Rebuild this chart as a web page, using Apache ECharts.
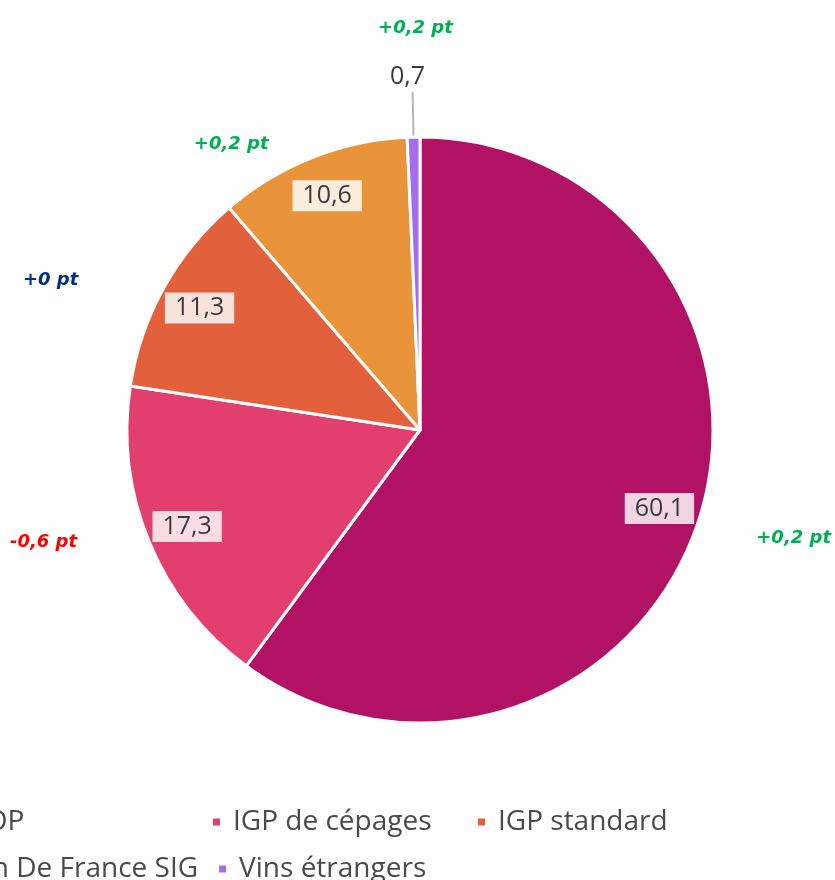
<!DOCTYPE html>
<html>
<head>
<meta charset="utf-8">
<script src="https://cdn.jsdelivr.net/npm/echarts@6/dist/echarts.min.js"></script>
<style>
  html, body { margin: 0; padding: 0; background: #fff; }
  #chart { width: 835px; height: 880px; }
</style>
</head>
<body>
<div id="chart"></div>
<script>
// Répartition des volumes (en %) et évolution sur un an (en points)
const categories = ['AOP', 'IGP de cépages', 'IGP standard', 'Vin De France SIG', 'Vins étrangers'];
const shares = [60.1, 17.3, 11.3, 10.6, 0.7];
const changes = [0.2, -0.6, 0, 0.2, 0.2];

const colors = ['#B21263', '#E23F6F', '#E3603C', '#E9943B', '#A66CF0'];
const FONT = '"Open Sans", "Noto Sans", sans-serif';

// Décalage des étiquettes d'évolution autour du disque
const changeLabelShift = [[5, -13], [-18, -36], [-30, 38], [-46, 75], [4, -14]];

const center = [420, 430];
const R = 293;

function fmtShare(v) { return v.toFixed(1).replace('.', ','); }
function fmtChange(v) {
  if (v === 0) return '+0 pt';
  return (v > 0 ? '+' : '-') + Math.abs(v).toFixed(1).replace('.', ',') + ' pt';
}
function changeColor(v) {
  if (v > 0) return '#00B050';
  if (v < 0) return '#FF0000';
  return '#002F87';
}

const chart = echarts.init(document.getElementById('chart'), null, { renderer: 'canvas' });

const mainData = categories.map((name, i) => ({ name, value: shares[i], itemStyle: { color: colors[i] } }));

const valueData = categories.map((name, i) => {
  const item = { name, value: shares[i] };
  if (shares[i] < 2) {
    item.label = {
      position: 'outside',
      backgroundColor: 'transparent',
      padding: 0
    };
    item.labelLine = { show: true, length: 45, length2: 0, lineStyle: { color: '#b5b5b5', width: 2 } };
  }
  return item;
});

const changeData = categories.map((name, i) => ({
  name,
  value: shares[i],
  label: { color: changeColor(changes[i]), offset: changeLabelShift[i] }
}));

chart.setOption({
  animation: false,
  legend: {
    data: categories,
    left: -59,
    top: 803,
    width: 800,
    icon: 'rect',
    itemWidth: 9,
    itemHeight: 9,
    itemGap: 19,
    selectedMode: false,
    textStyle: {
      fontFamily: FONT,
      fontSize: 28,
      color: '#4a4a4a',
      width: 224,
      lineHeight: 28,
      padding: [0, 0, 0, 7]
    }
  },
  series: [
    {
      // Secteurs du disque
      type: 'pie',
      center: center,
      radius: [0, R],
      startAngle: 90,
      clockwise: true,
      silent: true,
      itemStyle: { borderColor: '#fff', borderWidth: 3 },
      label: { show: false },
      labelLine: { show: false },
      data: mainData
    },
    {
      // Étiquettes de part (%)
      type: 'pie',
      center: center,
      radius: [205, R],
      startAngle: 90,
      clockwise: true,
      silent: true,
      avoidLabelOverlap: false,
      itemStyle: { color: 'transparent', borderWidth: 0 },
      label: {
        show: true,
        position: 'inside',
        formatter: p => fmtShare(p.value),
        fontFamily: FONT,
        fontSize: 25,
        lineHeight: 26,
        color: '#3a3a3a',
        backgroundColor: 'rgba(255,255,255,0.82)',
        padding: [3, 10, 2, 10]
      },
      labelLine: { show: false },
      labelLayout: function (params) {
        if (shares[params.dataIndex] < 2) {
          return { align: 'center', verticalAlign: 'bottom', dy: -2 };
        }
        return {};
      },
      data: valueData
    },
    {
      // Étiquettes d'évolution (pt)
      type: 'pie',
      center: center,
      radius: [384, 386],
      startAngle: 90,
      clockwise: true,
      silent: true,
      avoidLabelOverlap: false,
      itemStyle: { color: 'transparent', borderWidth: 0 },
      label: {
        show: true,
        position: 'inside',
        formatter: p => fmtChange(changes[p.dataIndex]),
        fontFamily: '"DejaVu Sans", "Liberation Sans", sans-serif',
        fontSize: 18,
        fontWeight: 'bold',
        fontStyle: 'italic'
      },
      labelLine: { show: false },
      data: changeData
    }
  ]
});
</script>
</body>
</html>
